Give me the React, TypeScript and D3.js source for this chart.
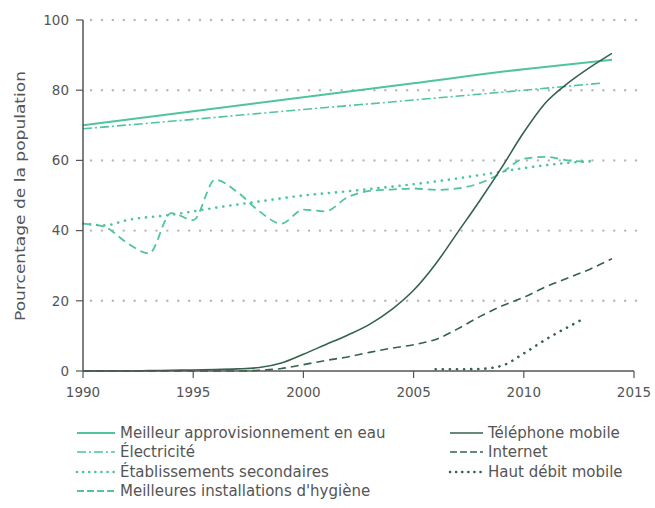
import React from "react";
import * as d3 from "d3";

// years and values
const yearsLong = d3.range(1990, 2015); // 1990..2014
const waterYears = [1990, 1995, 2000, 2005, 2010, 2014];
const water = [70, 74, 78, 82, 86, 88.7];
const elecYears = [1990, 1995, 2000, 2005, 2010, 2013.5];
const electricity = [69, 71.7, 74.5, 77.2, 80, 82];
const schoolYears = [1990, 1991, 1992, 1994, 1996, 1998, 2000, 2002, 2004, 2006, 2008, 2010, 2012, 2013];
const schools = [42, 41.5, 43, 44.5, 46.5, 48.3, 50, 51.2, 52.5, 54, 55.8, 57.8, 59.3, 59.8];
const hygieneYears = d3.range(1990, 2014);
const hygiene = [42, 41, 36.5, 33.5, 45, 43, 54.5, 51, 45.5, 42, 46, 45.5, 49.5, 51.3, 51.7, 52, 51.6, 52, 53.5, 56.5, 60.5, 61, 60, 59.5];
const mobile = [0, 0, 0, 0.1, 0.2, 0.3, 0.4, 0.6, 1, 2.3, 4.8, 7.5, 10.2, 13.3, 17.5, 23, 30.5, 39.5, 48.5, 58, 68, 76.5, 82, 86.5, 90.5];
const internetYears = d3.range(1990, 2015);
const internet = [0, 0, 0, 0, 0, 0, 0, 0, 0.2, 0.7, 1.8, 3, 4, 5.3, 6.5, 7.5, 9, 12, 15.5, 18.5, 21, 24, 26.5, 29, 32];
const broadbandYears = [2006, 2007, 2008, 2009, 2010, 2011, 2012, 2012.6];
const broadband = [0.5, 0.5, 0.6, 1.5, 5, 9, 12.5, 14.5];

const xTicks = [1990, 1995, 2000, 2005, 2010, 2015];
const yTicks = [0, 20, 40, 60, 80, 100];

const TEAL = "#4fc49d";
const DARK = "#34634d";
const FONT = "'DejaVu Sans', sans-serif";

type Series = { name: string; years: number[]; values: number[]; color: string; dash: string; width: number; cap: string };

const series: Series[] = [
  { name: "Meilleur approvisionnement en eau", years: waterYears, values: water, color: TEAL, dash: "none", width: 2, cap: "butt" },
  { name: "Électricité", years: elecYears, values: electricity, color: TEAL, dash: "9,3,2,3", width: 1.6, cap: "butt" },
  { name: "Établissements secondaires", years: schoolYears, values: schools, color: TEAL, dash: "0.1,7", width: 2.6, cap: "round" },
  { name: "Meilleures installations d'hygiène", years: hygieneYears, values: hygiene, color: TEAL, dash: "8,5", width: 1.8, cap: "butt" },
  { name: "Téléphone mobile", years: yearsLong, values: mobile, color: DARK, dash: "none", width: 1.6, cap: "butt" },
  { name: "Internet", years: internetYears, values: internet, color: DARK, dash: "8,5", width: 1.6, cap: "butt" },
  { name: "Haut débit mobile", years: broadbandYears, values: broadband, color: DARK, dash: "0.1,7", width: 2.6, cap: "round" },
];

export default function App() {
  const width = 655;
  const height = 508;
  const x = d3.scaleLinear().domain([1990, 2015]).range([83, 634]);
  const y = d3.scaleLinear().domain([0, 100]).range([371, 20]);

  const line = d3
    .line<[number, number]>()
    .x((d) => x(d[0]))
    .y((d) => y(d[1]))
    .curve(d3.curveMonotoneX);

  // legend layout: left column 4 rows, right column 3 rows
  const legendRows = [433, 452, 472, 491];

  return (
    <svg width={width} height={height} style={{ position: "absolute", left: 0, top: 0, background: "#fff" }} fontFamily={FONT}>
      {/* gridlines */}
      {yTicks.filter((t) => t > 0).map((t) => (
        <line key={t} x1={x(1990) + 8} x2={642} y1={y(t)} y2={y(t)} stroke="#b8b8b8" strokeWidth={2.4} strokeDasharray="0.1,10.8" strokeLinecap="round" />
      ))}

      {/* series */}
      {series.map((s) => (
        <path
          key={s.name}
          d={line(s.years.map((yr, i) => [yr, s.values[i]] as [number, number])) || ""}
          fill="none"
          stroke={s.color}
          strokeWidth={s.width}
          strokeDasharray={s.dash}
          strokeLinecap={s.cap as any}
        />
      ))}

      {/* y axis */}
      <line x1={x(1990)} x2={x(1990)} y1={y(0)} y2={y(100)} stroke="#555" strokeWidth={1.5} />
      {yTicks.map((t) => (
        <g key={t}>
          <line x1={x(1990) - 7} x2={x(1990)} y1={y(t)} y2={y(t)} stroke="#555" strokeWidth={1.2} />
          <text x={x(1990) - 14} y={y(t)} dy="0.35em" textAnchor="end" fontSize={13.5} fill="#555">{t}</text>
        </g>
      ))}

      {/* x axis */}
      <line x1={x(1990)} x2={x(2015)} y1={y(0)} y2={y(0)} stroke="#555" strokeWidth={1.5} />
      {xTicks.map((t) => (
        <g key={t}>
          <line x1={x(t)} x2={x(t)} y1={y(0)} y2={y(0) + 7} stroke="#555" strokeWidth={1.2} />
          <text x={x(t)} y={y(0) + 26} textAnchor="middle" fontSize={13.5} fill="#555">{t}</text>
        </g>
      ))}

      <text transform="translate(25,196) rotate(-90)" textAnchor="middle" fontSize={14} fill="#555" textLength={250} lengthAdjust="spacingAndGlyphs">
        Pourcentage de la population
      </text>

      {/* legend */}
      {series.map((s, i) => {
        const col = i < 4 ? 0 : 1;
        const row = col === 0 ? i : i - 4;
        const x0 = col === 0 ? 77 : 450;
        const x1 = col === 0 ? 115 : 483;
        const yy = legendRows[row];
        return (
          <g key={s.name}>
            <line x1={x0} x2={x1} y1={yy} y2={yy} stroke={s.color} strokeWidth={s.width} strokeDasharray={s.dash === "0.1,7" ? "0.1,6" : s.dash === "8,5" ? "7,3" : s.dash} strokeLinecap={s.cap as any} />
            <text x={x1 + 5} y={yy} dy="0.35em" fontSize={15} fill="#555">{s.name}</text>
          </g>
        );
      })}
    </svg>
  );
}
